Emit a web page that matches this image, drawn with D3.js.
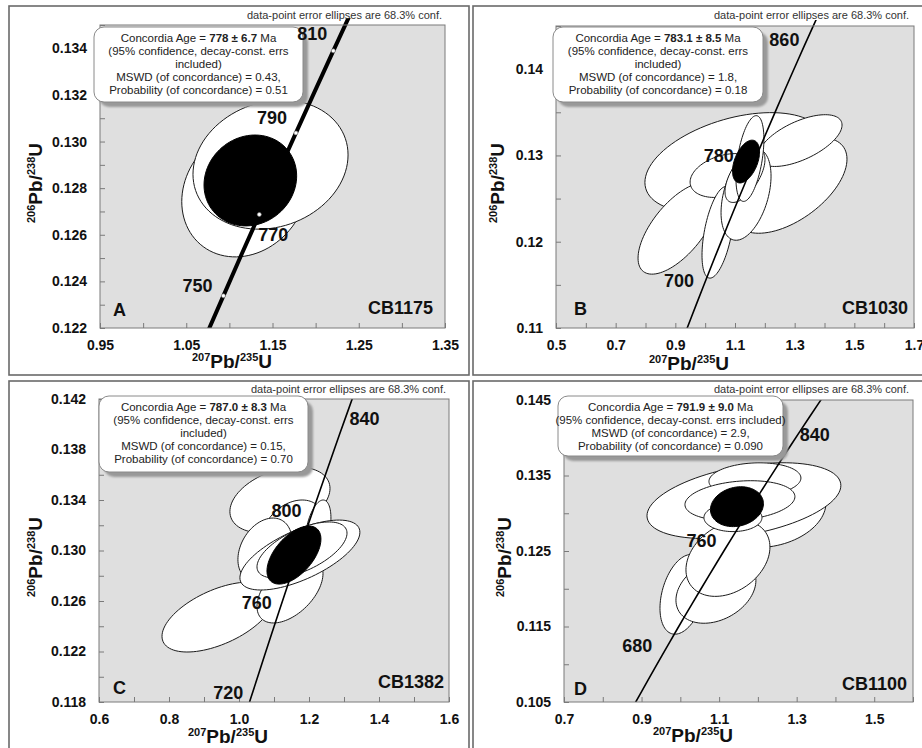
<!DOCTYPE html>
<html>
<head>
<meta charset="utf-8">
<script src="https://cdn.jsdelivr.net/npm/d3@7"></script>
<style>
  body { margin: 0; background: #fff; }
  svg { display: block; font-family: "Liberation Sans", Arial, sans-serif; }
</style>
</head>
<body>
<div id="graf"></div>
<script>
// concordia curve, age (Ma) -> 207Pb/235U and 206Pb/238U
const concAge = [620, 630, 640, 650, 660, 670, 680, 690, 700, 710, 720, 730, 740, 750,
  760, 770, 780, 790, 800, 810, 820, 830, 840, 850, 860, 870, 880]
const conc207 = [0.84155, 0.85978, 0.87818, 0.89677, 0.91554, 0.93450, 0.95365, 0.97298,
  0.99251, 1.01223, 1.03215, 1.05226, 1.07257, 1.09308, 1.11380, 1.13472, 1.15585,
  1.17718, 1.19873, 1.22049, 1.24247, 1.26466, 1.28708, 1.30971, 1.33257, 1.35566, 1.37897]
const conc206 = [0.10095, 0.10266, 0.10438, 0.10609, 0.10781, 0.10953, 0.11125, 0.11297,
  0.11470, 0.11643, 0.11817, 0.11990, 0.12164, 0.12338, 0.12513, 0.12687, 0.12862,
  0.13037, 0.13213, 0.13389, 0.13565, 0.13741, 0.13918, 0.14094, 0.14272, 0.14449, 0.14627]

// error ellipses: [207/235 centre, 206/238 centre, half-width x, half-width y, rho]
const grainsA = [
  [1.1178, 0.12784, 0.0730, 0.00279, 0.15],
  [1.1477, 0.12901, 0.0899, 0.00277, 0.15],
]
const meanA = [1.1243, 0.12833, 0.0537, 0.00195, 0.1]

const grainsB = [
  [1.100, 0.12918, 0.302, 0.00578, 0.4],
  [1.2844, 0.12652, 0.191, 0.00554, 0.55],
  [1.318, 0.13172, 0.1408, 0.0030, 0.6],
  [0.909, 0.12155, 0.134, 0.00531, 0.65],
  [1.0665, 0.12767, 0.117, 0.00254, 0.3],
  [1.043, 0.12109, 0.0536, 0.00531, 0.5],
  [1.137, 0.12548, 0.0838, 0.00531, 0.4],
  [1.1335, 0.12767, 0.067, 0.00312, 0.6],
  [1.150, 0.12964, 0.0469, 0.00497, 0.45],
]
const meanB = [1.137, 0.12929, 0.0453, 0.00248, 0.45]

const grainsC = [
  [0.94, 0.12473, 0.16, 0.00277, 0.55],
  [1.117, 0.134, 0.143, 0.00261, 0.35],
  [1.154, 0.13162, 0.0886, 0.00238, 0.3],
  [1.2257, 0.13162, 0.037, 0.00238, 0.4],
  [1.074, 0.13004, 0.0771, 0.00253, 0.3],
  [1.1457, 0.12687, 0.0943, 0.00261, 0.5],
  [1.174, 0.12964, 0.1714, 0.00277, 0.65],
  [1.18, 0.13004, 0.1286, 0.00222, 0.6],
]
const meanC = [1.157, 0.12964, 0.0771, 0.0023, 0.55]

const grainsD = [
  [1.231, 0.13035, 0.1444, 0.00488, 0.2],
  [1.164, 0.13167, 0.250, 0.00502, 0.4],
  [1.0068, 0.11926, 0.0593, 0.00528, 0.35],
  [1.0918, 0.11979, 0.1031, 0.00436, 0.3],
  [1.1228, 0.12401, 0.1083, 0.00502, 0.3],
  [1.1924, 0.13444, 0.1186, 0.00224, 0.1],
  [1.1537, 0.13167, 0.1418, 0.00264, 0.2],
  [1.1357, 0.12942, 0.0748, 0.00185, 0.0],
]
const meanD = [1.146, 0.13087, 0.0683, 0.00264, 0.15]

// axis ticks
const xTicksA = [0.95, 1.05, 1.15, 1.25, 1.35]
const xMinorA = [0.95, 1.0, 1.05, 1.1, 1.15, 1.2, 1.25, 1.3, 1.35]
const yTicksA = [0.122, 0.124, 0.126, 0.128, 0.130, 0.132, 0.134]
const yMinorA = [0.122, 0.123, 0.124, 0.125, 0.126, 0.127, 0.128, 0.129, 0.130, 0.131, 0.132, 0.133, 0.134, 0.135]

const xTicksB = [0.5, 0.7, 0.9, 1.1, 1.3, 1.5, 1.7]
const xMinorB = [0.5, 0.6, 0.7, 0.8, 0.9, 1.0, 1.1, 1.2, 1.3, 1.4, 1.5, 1.6, 1.7]
const yTicksB = [0.11, 0.12, 0.13, 0.14]
const yMinorB = [0.11, 0.115, 0.12, 0.125, 0.13, 0.135, 0.14, 0.145]

const xTicksC = [0.6, 0.8, 1.0, 1.2, 1.4, 1.6]
const xMinorC = [0.6, 0.7, 0.8, 0.9, 1.0, 1.1, 1.2, 1.3, 1.4, 1.5, 1.6]
const yTicksC = [0.118, 0.122, 0.126, 0.130, 0.134, 0.138, 0.142]
const yMinorC = [0.118, 0.120, 0.122, 0.124, 0.126, 0.128, 0.130, 0.132, 0.134, 0.136, 0.138, 0.140, 0.142]

const xTicksD = [0.7, 0.9, 1.1, 1.3, 1.5]
const xMinorD = [0.7, 0.8, 0.9, 1.0, 1.1, 1.2, 1.3, 1.4, 1.5, 1.6]
const yTicksD = [0.105, 0.115, 0.125, 0.135, 0.145]
const yMinorD = [0.105, 0.110, 0.115, 0.120, 0.125, 0.130, 0.135, 0.140, 0.145]

// labelled ages on the concordia
const agesA = [750, 770, 790, 810]
const agesB = [700, 780, 860]
const agesC = [720, 760, 800, 840]
const agesD = [680, 760, 840]

const samples = ['CB1175', 'CB1030', 'CB1382', 'CB1100']
const letters = ['A', 'B', 'C', 'D']
const concAgeTxt = ['778 \u00b1 6.7', '783.1 \u00b1 8.5', '787.0 \u00b1 8.3', '791.9 \u00b1 9.0']
const mswd = ['0.43', '1.8', '0.15', '2.9']
const prob = ['0.51', '0.18', '0.70', '0.090']

const W = 922
const H = 748
const note = 'data-point error ellipses are 68.3% conf.'

const svg = d3.select('#graf').append('svg').attr('width', W).attr('height', H)
const defs = svg.append('defs')
defs.append('filter').attr('id', 'blur')
  .attr('x', '-10%').attr('y', '-10%').attr('width', '120%').attr('height', '130%')
  .append('feGaussianBlur').attr('stdDeviation', 1.2)

// layout (pixels) for each panel
const panels = [
  {
    frame: [9, 6, 460, 369], plot: [100, 25, 445, 328], xd: [0.95, 1.35], yd: [0.122, 0.135],
    xt: xTicksA, xm: xMinorA, yt: yTicksA, ym: yMinorA, xf: '.2f', yf: '.3f',
    grains: grainsA, mean: meanA, ages: agesA, lw: 4, over: 7, markers: true,
    off: { 750: [-26, -10], 770: [14, 20], 790: [-24, -15], 810: [-21, -17] },
    box: [94, 27, 209, 75], wrap: true,
    yTitle: [42, 183], xTitle: [232, 368], letter: [113, 315.5], sample: [433, 313.5], note: [442, 19],
  },
  {
    frame: [473, 6, 460, 369], plot: [556, 26, 914, 328], xd: [0.5, 1.7], yd: [0.11, 0.145],
    xt: xTicksB, xm: xMinorB, yt: yTicksB, ym: yMinorB, xf: '.1f', yf: '.2f',
    grains: grainsB, mean: meanB, ages: agesB, lw: 1.6, over: 6, markers: false,
    off: { 700: [-24, -7], 780: [-33, -12], 860: [-20, -6] },
    box: [553, 27, 210, 75], wrap: true,
    yTitle: [504, 183], xTitle: [689, 370], letter: [574, 314.5], sample: [908, 313.5], note: [909, 19],
  },
  {
    frame: [9, 381, 460, 380], plot: [99, 399, 449, 702], xd: [0.6, 1.6], yd: [0.118, 0.142],
    xt: xTicksC, xm: xMinorC, yt: yTicksC, ym: yMinorC, xf: '.1f', yf: '.3f',
    grains: grainsC, mean: meanC, ages: agesC, lw: 1.6, over: 0, markers: false,
    off: { 720: [-22, -7], 760: [-22, -9], 800: [-22, -13], 840: [25, -16] },
    box: [99, 396, 209, 76], wrap: true,
    yTitle: [42, 557], xTitle: [228, 743], letter: [113, 693.5], sample: [444, 687.5], note: [446, 393],
  },
  {
    frame: [473, 381, 460, 380], plot: [564, 400, 913, 702], xd: [0.7, 1.6], yd: [0.105, 0.145],
    xt: xTicksD, xm: xMinorD, yt: yTicksD, ym: yMinorD, xf: '.1f', yf: '.3f',
    grains: grainsD, mean: meanD, ages: agesD, lw: 1.6, over: 0, markers: false,
    off: { 680: [-25, -9], 760: [-23, -10], 840: [23, -9] },
    box: [558, 396, 225, 60], wrap: false,
    yTitle: [511, 557], xTitle: [693, 742], letter: [574, 694.5], sample: [907, 689.5], note: [909, 393],
  },
]

function ellipsePts(e) {
  const [cx, cy, hx, hy, r] = e
  const s = Math.sqrt(1 - r * r)
  return d3.range(96).map((i) => {
    const t = (i / 96) * 2 * Math.PI
    return [cx + hx * Math.cos(t), cy + hy * (r * Math.cos(t) + s * Math.sin(t))]
  })
}

function ratioTitle(sel, a, b, c, d) {
  sel.append('tspan').attr('font-size', 11).attr('dy', -7).text(a)
  sel.append('tspan').attr('font-size', 19).attr('dy', 7).text(b)
  sel.append('tspan').attr('font-size', 11).attr('dy', -7).text(c)
  sel.append('tspan').attr('font-size', 19).attr('dy', 7).text(d)
}

panels.forEach((p, i) => {
  const [x0, y0, x1, y1] = p.plot
  const x = d3.scaleLinear().domain(p.xd).range([x0, x1])
  const y = d3.scaleLinear().domain(p.yd).range([y1, y0])
  const g = svg.append('g')

  // panel frame
  g.append('rect')
    .attr('x', p.frame[0]).attr('y', p.frame[1])
    .attr('width', p.frame[2]).attr('height', p.frame[3])
    .attr('fill', 'none').attr('stroke', '#6a6a6a').attr('stroke-width', 1.6)

  g.append('rect')
    .attr('x', x0).attr('y', y0).attr('width', x1 - x0).attr('height', y1 - y0)
    .attr('fill', '#dfdfdf')

  const cid = 'clip' + i
  defs.append('clipPath').attr('id', cid).append('rect')
    .attr('x', x0).attr('y', y0 - p.over).attr('width', x1 - x0).attr('height', y1 - y0 + p.over)

  const line = d3.line().x((d) => x(d[0])).y((d) => y(d[1]))

  const inner = g.append('g').attr('clip-path', `url(#${cid})`)
  inner.selectAll('path.grain')
    .data(p.grains)
    .join('path')
    .attr('class', 'grain')
    .attr('d', (d) => line.curve(d3.curveLinearClosed)(ellipsePts(d)))
    .attr('fill', '#fff')
    .attr('stroke', '#1a1a1a')
    .attr('stroke-width', 1)

  const concPts = concAge.map((a, k) => [conc207[k], conc206[k]])
  inner.append('path')
    .attr('d', line.curve(d3.curveLinear)(concPts))
    .attr('fill', 'none')
    .attr('stroke', '#000')
    .attr('stroke-width', p.lw)

  inner.append('path')
    .attr('d', line.curve(d3.curveLinearClosed)(ellipsePts(p.mean)))
    .attr('fill', '#000')
    .attr('stroke', '#000')

  const agePt = (a) => {
    const k = concAge.indexOf(a)
    return [x(conc207[k]), y(conc206[k])]
  }

  if (p.markers) {
    inner.selectAll('circle.mk')
      .data(p.ages)
      .join('circle')
      .attr('class', 'mk')
      .attr('cx', (a) => agePt(a)[0])
      .attr('cy', (a) => agePt(a)[1])
      .attr('r', 2)
      .attr('fill', '#fff')
      .attr('stroke', '#777')
      .attr('stroke-width', 0.6)
  }

  // plot border
  g.append('rect')
    .attr('x', x0).attr('y', y0).attr('width', x1 - x0).attr('height', y1 - y0)
    .attr('fill', 'none').attr('stroke', '#7a7a7a').attr('stroke-width', 1)

  // minor ticks
  const gxm = g.append('g').attr('transform', `translate(0,${y1})`)
    .call(d3.axisBottom(x).tickValues(p.xm).tickSize(-5).tickFormat(''))
  const gym = g.append('g').attr('transform', `translate(${x0},0)`)
    .call(d3.axisLeft(y).tickValues(p.ym).tickSize(-5).tickFormat(''))
  ;[gxm, gym].forEach((a) => {
    a.select('.domain').remove()
    a.selectAll('line').attr('stroke', '#7a7a7a')
  })

  // tick labels
  const gx = g.append('g').attr('transform', `translate(0,${y1})`)
    .call(d3.axisBottom(x).tickValues(p.xt).tickSize(0).tickPadding(12).tickFormat(d3.format(p.xf)))
  const gy = g.append('g').attr('transform', `translate(${x0},0)`)
    .call(d3.axisLeft(y).tickValues(p.yt).tickSize(0).tickPadding(13).tickFormat(d3.format(p.yf)))
  ;[gx, gy].forEach((a) => {
    a.select('.domain').remove()
    a.selectAll('text')
      .attr('font-family', '"Liberation Sans", Arial, sans-serif')
      .attr('font-size', 14)
      .attr('font-weight', 'bold')
      .attr('fill', '#111')
  })

  // axis titles
  const xt = g.append('text')
    .attr('x', p.xTitle[0]).attr('y', p.xTitle[1])
    .attr('text-anchor', 'middle').attr('font-weight', 'bold').attr('fill', '#111')
  ratioTitle(xt, '207', 'Pb/', '235', 'U')
  const yt = g.append('text')
    .attr('transform', `translate(${p.yTitle[0]},${p.yTitle[1]}) rotate(-90)`)
    .attr('text-anchor', 'middle').attr('font-weight', 'bold').attr('fill', '#111')
  ratioTitle(yt, '206', 'Pb/', '238', 'U')

  // note, letter, sample
  g.append('text')
    .attr('x', p.note[0]).attr('y', p.note[1])
    .attr('text-anchor', 'end').attr('font-size', 11).attr('fill', '#333')
    .text(note)
  g.append('text')
    .attr('x', p.letter[0]).attr('y', p.letter[1])
    .attr('font-size', 18).attr('font-weight', 'bold').attr('fill', '#111')
    .text(letters[i])
  g.append('text')
    .attr('x', p.sample[0]).attr('y', p.sample[1])
    .attr('text-anchor', 'end').attr('font-size', 18).attr('font-weight', 'bold').attr('fill', '#111')
    .text(samples[i])

  // concordia age box
  const [bx, by, bw, bh] = p.box
  g.append('rect')
    .attr('x', bx + 5).attr('y', by + 5).attr('width', bw).attr('height', bh)
    .attr('rx', 10).attr('fill', '#999').attr('filter', 'url(#blur)')
  g.append('rect')
    .attr('x', bx).attr('y', by).attr('width', bw).attr('height', bh)
    .attr('rx', 10).attr('fill', '#fff').attr('stroke', '#8a8a8a').attr('stroke-width', 1)

  const lines = p.wrap
    ? ['(95% confidence, decay-const. errs', 'included)']
    : ['(95% confidence, decay-const. errs included)']
  lines.push(`MSWD (of concordance) = ${mswd[i]},`)
  lines.push(`Probability (of concordance) = ${prob[i]}`)

  const bt = g.append('text')
    .attr('x', bx + bw / 2).attr('y', by + 15)
    .attr('text-anchor', 'middle').attr('font-size', 11.5).attr('fill', '#222')
  bt.append('tspan').text('Concordia Age = ')
  bt.append('tspan').attr('font-weight', 'bold').text(concAgeTxt[i])
  bt.append('tspan').text(' Ma')
  lines.forEach((t, k) => {
    g.append('text')
      .attr('x', bx + bw / 2).attr('y', by + 15 + 13 * (k + 1))
      .attr('text-anchor', 'middle').attr('font-size', 11.5).attr('fill', '#222')
      .text(t)
  })

  // concordia age labels, drawn above the box
  g.selectAll('text.age')
    .data(p.ages)
    .join('text')
    .attr('class', 'age')
    .attr('x', (a) => agePt(a)[0] + p.off[a][0])
    .attr('y', (a) => agePt(a)[1] + p.off[a][1] + 6.5)
    .attr('text-anchor', 'middle')
    .attr('font-size', 18)
    .attr('font-weight', 'bold')
    .attr('fill', '#111')
    .text((a) => a)
})
</script>
</body>
</html>
